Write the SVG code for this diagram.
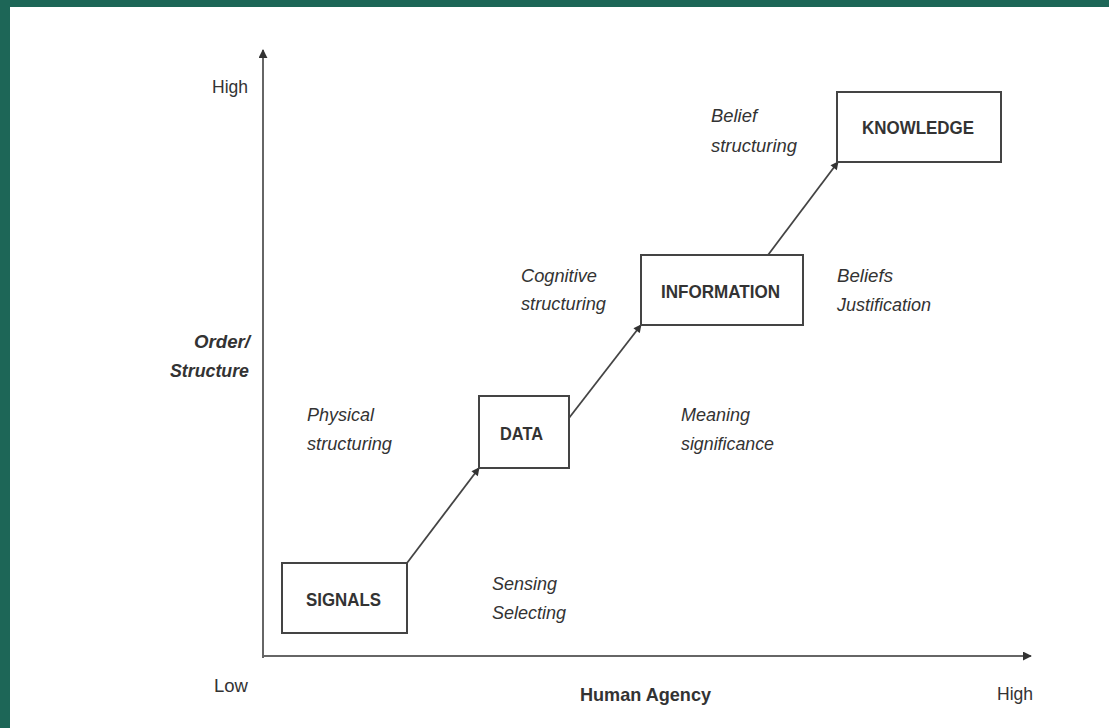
<svg xmlns="http://www.w3.org/2000/svg" width="1109" height="728" viewBox="0 0 1109 728">
<defs>
<style>
text{font-family:"Liberation Sans",Arial,sans-serif;font-size:18.5px;fill:#333}
.b{font-weight:bold}
.i{font-style:italic}
.box{fill:#fff;stroke:#444;stroke-width:2}
.ax{stroke:#666;stroke-width:2;fill:none}
.cn{stroke:#444;stroke-width:1.8;fill:none}
</style>
<marker id="ah" viewBox="0 0 10 10" refX="9" refY="5" markerWidth="9" markerHeight="8" orient="auto" markerUnits="userSpaceOnUse"><path d="M0,0 L10,5 L0,10 z" fill="#333"/></marker>
<marker id="ax" viewBox="0 0 10 10" refX="9" refY="5" markerWidth="9" markerHeight="9" orient="auto" markerUnits="userSpaceOnUse"><path d="M0,0 L10,5 L0,10 z" fill="#333"/></marker>
</defs>
<rect width="1109" height="728" fill="#1d6657"/>
<rect x="10" y="7" width="1099" height="721" fill="#fff"/>
<g id="axes">
<line class="ax" x1="263" y1="658" x2="263" y2="50" marker-end="url(#ax)"/>
<line class="ax" x1="263" y1="656" x2="1031" y2="656" marker-end="url(#ax)"/>
<text x="212" y="93" textLength="36" lengthAdjust="spacingAndGlyphs">High</text>
<text x="214" y="692" textLength="34" lengthAdjust="spacingAndGlyphs">Low</text>
<text x="997" y="700" textLength="36" lengthAdjust="spacingAndGlyphs">High</text>
<text class="b" x="580" y="701" textLength="131" lengthAdjust="spacingAndGlyphs">Human Agency</text>
<text class="b i" x="194" y="348" textLength="56" lengthAdjust="spacingAndGlyphs">Order/</text>
<text class="b i" x="170" y="377" textLength="79" lengthAdjust="spacingAndGlyphs">Structure</text>
</g>
<g id="connectors">
<line class="cn" x1="407" y1="563" x2="479" y2="468" marker-end="url(#ah)"/>
<line class="cn" x1="569" y1="418" x2="641" y2="325" marker-end="url(#ah)"/>
<line class="cn" x1="768" y1="255" x2="838" y2="162" marker-end="url(#ah)"/>
</g>
<g id="signals">
<rect class="box" x="282" y="563" width="125" height="70"/>
<text class="b" x="306" y="606" textLength="75" lengthAdjust="spacingAndGlyphs">SIGNALS</text>
</g>
<g id="data">
<rect class="box" x="479" y="396" width="90" height="72"/>
<text class="b" x="500" y="440" textLength="43" lengthAdjust="spacingAndGlyphs">DATA</text>
</g>
<g id="information">
<rect class="box" x="641" y="255" width="162" height="70"/>
<text class="b" x="661" y="298" textLength="119" lengthAdjust="spacingAndGlyphs">INFORMATION</text>
</g>
<g id="knowledge">
<rect class="box" x="837" y="92" width="164" height="70"/>
<text class="b" x="862" y="134" textLength="112" lengthAdjust="spacingAndGlyphs">KNOWLEDGE</text>
</g>
<g id="labels">
<text class="i" x="307" y="421" textLength="67" lengthAdjust="spacingAndGlyphs">Physical</text>
<text class="i" x="307" y="450" textLength="85" lengthAdjust="spacingAndGlyphs">structuring</text>
<text class="i" x="492" y="590" textLength="65" lengthAdjust="spacingAndGlyphs">Sensing</text>
<text class="i" x="492" y="619" textLength="74" lengthAdjust="spacingAndGlyphs">Selecting</text>
<text class="i" x="521" y="282" textLength="76" lengthAdjust="spacingAndGlyphs">Cognitive</text>
<text class="i" x="521" y="310" textLength="85" lengthAdjust="spacingAndGlyphs">structuring</text>
<text class="i" x="681" y="421" textLength="69" lengthAdjust="spacingAndGlyphs">Meaning</text>
<text class="i" x="681" y="450" textLength="93" lengthAdjust="spacingAndGlyphs">significance</text>
<text class="i" x="837" y="282" textLength="56" lengthAdjust="spacingAndGlyphs">Beliefs</text>
<text class="i" x="837" y="311" textLength="94" lengthAdjust="spacingAndGlyphs">Justification</text>
<text class="i" x="711" y="122" textLength="46" lengthAdjust="spacingAndGlyphs">Belief</text>
<text class="i" x="711" y="152" textLength="86" lengthAdjust="spacingAndGlyphs">structuring</text>
</g>
</svg>
